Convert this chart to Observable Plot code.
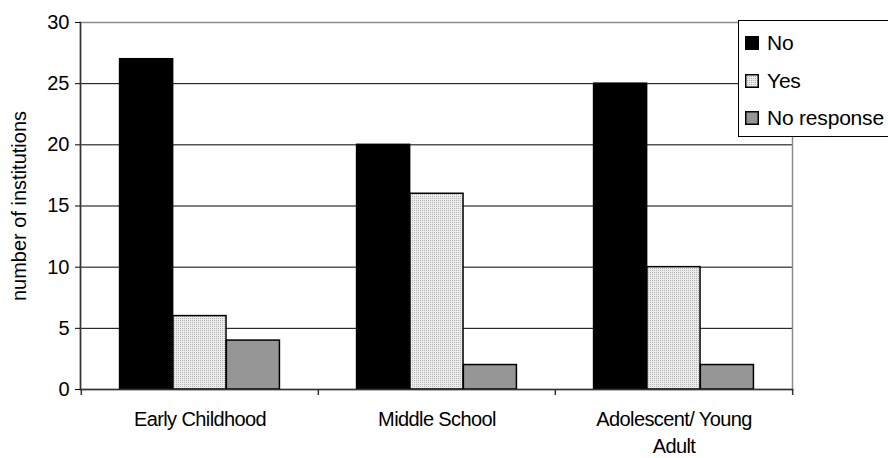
<!DOCTYPE html>
<html><head><meta charset="utf-8">
<script src="https://cdn.jsdelivr.net/npm/d3@7"></script>
<script src="https://cdn.jsdelivr.net/npm/@observablehq/plot@0.6"></script>
<style>
body{margin:0;background:#fff;overflow:hidden}
#wrap{position:relative;width:888px;height:458px;overflow:hidden;font-family:"Liberation Sans",Arial,sans-serif}
#legend{position:absolute;left:738px;top:20px;width:170px;height:117px;border:1px solid #000;background:#fff;box-sizing:border-box}
.item{position:absolute;left:6px;height:22px;display:flex;align-items:center;font-size:21px;letter-spacing:-0.2px;color:#000;white-space:nowrap}
.sw{width:14px;height:14px;margin-right:8px;display:block}
g[aria-label="x-axis tick label"] text{letter-spacing:-0.6px}
</style></head><body><div id="wrap"></div>
<script>
const categories = ["Early Childhood", "Middle School", "Adolescent/ Young Adult"];
const tickLabels = ["Early Childhood", "Middle School", "Adolescent/ Young\nAdult"];
const series = ["No", "Yes", "No response"];
const noValues = [27, 20, 25];
const yesValues = [6, 16, 10];
const noResponseValues = [4, 2, 2];
const yTicks = [0, 5, 10, 15, 20, 25, 30];

const valuesBySeries = [noValues, yesValues, noResponseValues];
const rows = series.flatMap((s, i) => categories.map((c, j) => ({category: c, series: s, value: valuesBySeries[i][j]})));

const W = 888, H = 458, mL = 80, mR = 96, mT = 22, mB = 69;
const bw = (W - mL - mR) / categories.length;
const barW = 53.4;
const inset = (bw - barW) / 2;
const fills = ["#000000", "url(#dots)", "#969696"];

const marks = [
  Plot.gridY([5, 10, 15, 20, 25], {stroke: "#000", strokeOpacity: 1, strokeWidth: 1}),
  Plot.frame({stroke: "#8c8c8c", strokeWidth: 1.5}),
  ...series.map((s, i) => Plot.barY(rows.filter(d => d.series === s), {
    x: "category", y: "value", fill: fills[i], stroke: "#000", strokeWidth: 1.5,
    insetLeft: inset, insetRight: inset, dx: (i - 1) * barW
  })),
  Plot.frame({anchor: "left", stroke: "#333", strokeWidth: 1.5}),
  Plot.frame({anchor: "bottom", stroke: "#333", strokeWidth: 1.5}),
  Plot.ruleX(categories, {x: d => d, dx: -bw / 2, y1: 0, y2: 0, insetBottom: -6, stroke: "#333", strokeWidth: 1.5}),
  Plot.ruleX(categories.slice(-1), {x: d => d, dx: bw / 2, y1: 0, y2: 0, insetBottom: -6, stroke: "#333", strokeWidth: 1.5}),
  Plot.axisY(yTicks, {tickSize: 5, tickPadding: 6, fontSize: 20, label: "number of institutions", labelArrow: "none", labelAnchor: "center", labelOffset: 69, tickFormat: d => String(d)}),
  Plot.axisX({tickSize: 0, tickPadding: 17, fontSize: 20, lineHeight: 1.35, label: null, tickFormat: d => tickLabels[categories.indexOf(d)]})
];

const plot = Plot.plot({
  width: W, height: H,
  marginLeft: mL, marginRight: mR, marginTop: mT, marginBottom: mB,
  style: {fontFamily: "'Liberation Sans', Arial, sans-serif", color: "#000", background: "#fff"},
  x: {domain: categories, padding: 0},
  y: {domain: [0, 30]},
  marks
});

const ns = "http://www.w3.org/2000/svg";
function addPattern(svg, id) {
  const defs = document.createElementNS(ns, "defs");
  defs.innerHTML = `<pattern id="${id}" width="2" height="2" patternUnits="userSpaceOnUse"><rect width="2" height="2" fill="#ececec"/><rect width="1" height="1" fill="#b4b4b4"/></pattern>`;
  svg.insertBefore(defs, svg.firstChild);
}
addPattern(plot, "dots");

const wrap = document.getElementById("wrap");
wrap.appendChild(plot);

const legend = document.createElement("div");
legend.id = "legend";
const swatchFills = ["#000000", "url(#dotsL)", "#969696"];
const itemTops = [11, 49, 86];
series.forEach((s, i) => {
  const item = document.createElement("div");
  item.className = "item";
  item.style.top = itemTops[i] + "px";
  item.innerHTML = `<svg class="sw" width="14" height="14">${i === 1 ? '<defs><pattern id="dotsL" width="2" height="2" patternUnits="userSpaceOnUse"><rect width="2" height="2" fill="#ececec"/><rect width="1" height="1" fill="#b4b4b4"/></pattern></defs>' : ''}<rect x="0.75" y="0.75" width="12.5" height="12.5" fill="${swatchFills[i]}" stroke="#000" stroke-width="1.5"/></svg><span>${s}</span>`;
  legend.appendChild(item);
});
wrap.appendChild(legend);
</script>
</body></html>
